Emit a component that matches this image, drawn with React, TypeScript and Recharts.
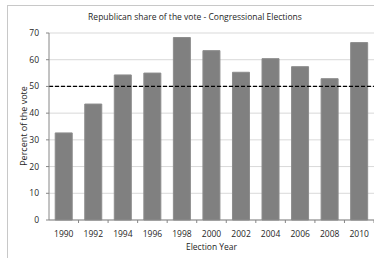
import React from 'react';
import { BarChart, Bar, XAxis, YAxis, CartesianGrid, ReferenceLine } from 'recharts';

const years = ['1990', '1992', '1994', '1996', '1998', '2000', '2002', '2004', '2006', '2008', '2010'];
const shares = [32.6, 43.4, 54.3, 55.0, 68.3, 63.4, 55.3, 60.4, 57.4, 52.9, 66.4];
const yTicks = [0, 10, 20, 30, 40, 50, 60, 70];
const majority = 50;

const FONT = '"Open Sans", sans-serif';
const TEXT = '#262626';

const data = years.map((year, i) => ({ year, share: shares[i] }));

// year label, with the small tick mark on the boundary between categories
const YearTick = (props: any) => {
  const { x, y, payload } = props;
  const half = payload && payload.offset ? payload.offset : 14.8;
  return (
    <g>
      <line x1={x + half} y1={y} x2={x + half} y2={y + 3} stroke="#868686" />
      <text x={x} y={y + 17} textAnchor="middle" fontSize={8.5} fontFamily={FONT} fill={TEXT}>
        {payload.value}
      </text>
    </g>
  );
};

export default function App() {
  return (
    <div style={{ position: 'fixed', left: 0, top: 0, width: 374, height: 258, background: '#fff', overflow: 'hidden' }}>
      <div
        style={{
          position: 'absolute',
          left: 7,
          top: 5,
          width: 400,
          height: 300,
          borderLeft: '1px solid #c8c8c8',
          borderTop: '1px solid #c8c8c8',
        }}
      />
      <div style={{ position: 'absolute', left: 0, top: 0 }}>
        <BarChart
          width={374}
          height={258}
          data={data}
          margin={{ top: 33, right: 0, bottom: 0, left: 0 }}
          barCategoryGap="21%"
        >
          <CartesianGrid vertical={false} stroke="#d9d9d9" />
          <XAxis
            dataKey="year"
            height={38}
            axisLine={{ stroke: '#868686' }}
            tickLine={false}
            tickSize={0}
            tickMargin={0}
            tick={<YearTick />}
            interval={0}
          />
          <YAxis
            width={49}
            domain={[0, 70]}
            ticks={yTicks}
            interval={0}
            axisLine={{ stroke: '#868686' }}
            tickLine={{ stroke: '#868686' }}
            tickSize={3}
            tickMargin={7}
            tick={{ fontSize: 8.5, fontFamily: FONT, fill: TEXT }}
          />
          <Bar dataKey="share" fill="#808080" stroke="#8c8c8c" isAnimationActive={false} />
          <ReferenceLine y={majority} stroke="#000" strokeWidth={1.3} strokeDasharray="4 2" />
        </BarChart>
      </div>
      <div
        style={{
          position: 'absolute',
          left: 0,
          width: 390,
          top: 11,
          textAlign: 'center',
          fontFamily: FONT,
          fontSize: 8.5,
          color: TEXT,
        }}
      >
        Republican share of the vote - Congressional Elections
      </div>
      <div
        style={{
          position: 'absolute',
          left: 49,
          width: 325,
          top: 241,
          textAlign: 'center',
          fontFamily: FONT,
          fontSize: 8.5,
          color: TEXT,
        }}
      >
        Election Year
      </div>
      <div
        style={{
          position: 'absolute',
          left: 23,
          top: 126,
          transform: 'translate(-50%, -50%) rotate(-90deg)',
          whiteSpace: 'nowrap',
          fontFamily: FONT,
          fontSize: 9,
          color: TEXT,
        }}
      >
        Percent of the vote
      </div>
    </div>
  );
}
